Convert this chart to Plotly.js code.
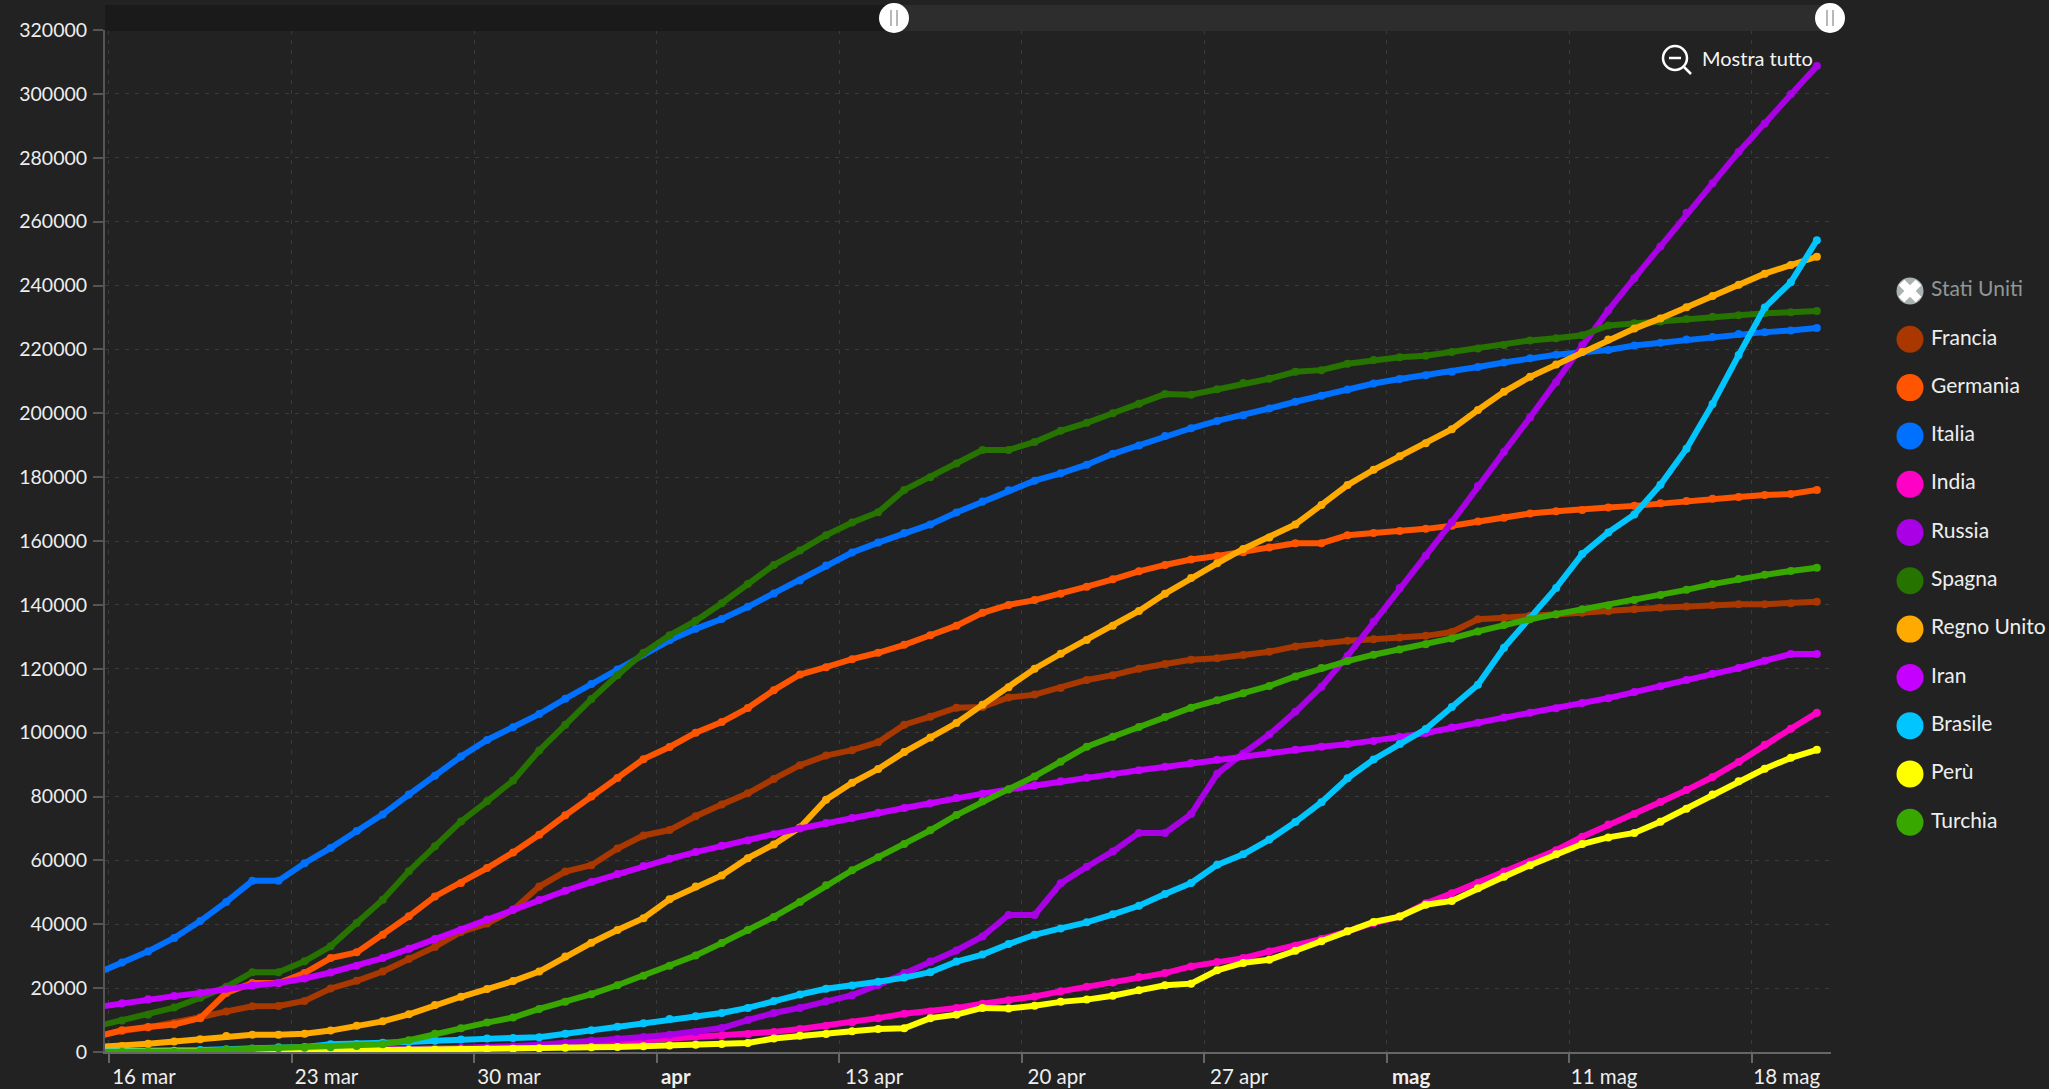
<!DOCTYPE html>
<html><head><meta charset="utf-8">
<script src="https://cdn.plot.ly/plotly-3.0.1.min.js"></script>
<style>html,body{margin:0;padding:0;background:#222;overflow:hidden}#c{width:2049px;height:1089px}</style>
</head><body><div id="c"></div>
<script>
const startDay = '2020-03-15T12:00:00';
const pointCount = 67;
const names = ['Francia','Germania','Italia','India','Russia','Spagna','Regno Unito','Iran','Brasile','Perù','Turchia'];
const colors = ['#A83800','#FF5500','#0070FF','#FF00C5','#A900E6','#267300','#FFAA00','#C500FF','#00C5FF','#FFFF00','#38A800'];
const francia = [5000,6600,7700,9100,10900,12700,14300,14400,16000,19900,22300,25200,29100,32900,37600,40200,44500,51800,56500,58500,63700,67800,69500,73800,77500,81000,85500,89800,92800,94500,97000,102500,105000,107800,108000,111000,111900,114000,116500,118000,120000,121500,122800,123300,124300,125300,127000,128000,128800,129200,129800,130300,131500,135500,136000,136600,137000,137500,138000,138600,139100,139500,139900,140200,140200,140500,141000];
const germania = [4700,6800,7800,8600,10600,18500,21600,21600,24700,29400,31200,36700,42500,48700,52900,57600,62500,68000,74100,80000,85800,91700,95500,100000,103300,107700,113300,118200,120500,123000,125000,127500,130500,133500,137500,140000,141500,143500,145700,148000,150500,152500,154200,155300,156500,158000,159300,159300,161800,162500,163100,163800,164800,166100,167300,168600,169300,169700,170500,171000,171800,172500,173200,173800,174400,174700,176000];
const italia = [24500,28000,31500,35700,41000,47000,53600,53600,59100,63900,69200,74400,80600,86500,92500,97700,101700,105800,110600,115200,119800,124600,128900,132500,135600,139400,143600,147600,152300,156400,159500,162500,165200,168900,172400,175900,178900,181200,183900,187300,189900,192900,195300,197600,199400,201500,203600,205500,207400,209300,210700,211900,213000,214500,215900,217200,218300,219100,219800,221200,222100,223100,223900,224800,225400,225900,226700];
const india = [110,115,140,170,200,250,330,400,470,560,650,750,880,1000,1100,1250,1400,1650,2050,2550,3100,3600,4300,4750,5100,5600,6300,7200,8200,9300,10600,12000,12700,13800,15100,16200,17400,19000,20400,21800,23500,24700,26800,28200,29400,31500,33300,35400,37800,40400,42400,46600,49700,53000,56500,59600,63200,67400,71200,74500,78300,82000,86100,90800,96200,101200,106200];
const russia = [60,63,93,115,150,200,250,300,370,440,500,660,840,1000,1300,1500,1800,2300,2800,3500,4100,4700,5400,6300,7500,10000,12200,13800,15900,17800,21000,24700,28300,31800,36200,42900,42900,52800,58000,62800,68600,68600,74500,87100,93500,99400,106500,114400,124000,134700,145300,155400,165900,177200,187900,198700,209700,221300,232200,242300,252200,262800,272000,281800,290700,299900,308700];
const spagna = [8000,9900,11700,13900,17000,20400,25000,25000,28400,33100,40400,47700,56600,64400,72200,78500,85000,94400,102500,110500,118000,125000,130500,135000,140500,146500,152500,157000,161800,165800,169000,176000,180000,184300,188500,188500,191000,194500,197000,200000,203000,206000,205800,207500,209500,210800,213000,213500,215500,216700,217500,218000,219200,220300,221400,222800,223500,224400,227500,228200,228700,229500,230200,230700,231300,231600,232000];
const regnoUnito = [1500,1900,2600,3300,4000,5000,5400,5400,5700,6700,8200,9600,11800,14700,17300,19700,22200,25200,29900,34200,38200,41900,47800,51800,55300,60700,65000,70300,79000,84300,88600,93900,98500,103000,108700,114200,120000,124700,129000,133500,138100,143500,148400,153000,157500,161100,165200,171300,177500,182300,186500,190600,195000,201000,206700,211400,215300,219200,223100,226500,229700,233200,236700,240200,243700,246400,249000];
const iran = [14000,15300,16500,17500,18500,19800,20800,21600,23000,24900,27000,29400,32300,35400,38300,41500,44600,47600,50500,53200,55700,58200,60500,62600,64600,66200,68200,70000,71700,73300,74900,76400,77900,79500,80900,82200,83500,84800,85900,87000,88200,89300,90500,91500,92600,93700,94600,95600,96400,97400,98600,99900,101600,103100,104700,106200,107600,109300,110800,112700,114500,116500,118400,120200,122500,124600,124600];
const brasile = [200,230,300,400,600,900,1100,1500,1600,2400,2500,2900,3100,3500,3900,4200,4400,4600,5700,6800,7900,9000,10300,11200,12200,13800,16000,18000,19800,20800,22000,23300,25000,28300,30500,33800,36700,38700,40600,43100,45800,49500,52900,58600,61900,66500,72000,78200,85700,91600,96400,101100,108000,115000,126600,135800,145300,155900,162700,168300,177600,188900,202900,218200,233100,241000,254200];
const peru = [40,45,90,120,170,230,320,400,420,480,540,600,650,700,800,900,1000,1150,1300,1450,1600,1800,2000,2300,2500,2800,4200,5100,5600,6500,7200,7400,10600,11700,13800,13600,14500,15700,16400,17600,19300,20900,21400,25600,27900,28900,31700,34700,37800,40700,42400,46100,47300,51300,54900,58500,61900,65100,67200,68600,72100,76200,80600,84800,88700,92100,94600];
const turchia = [20,50,50,100,200,700,1000,1200,1300,1500,1900,2400,3700,5700,7400,9200,10800,13500,15700,18100,20900,23900,27000,30200,34100,38200,42300,47000,52200,56900,61000,65100,69400,74200,78500,82300,86300,90900,95600,98700,101800,104900,107800,110100,112300,114600,117600,120200,122400,124400,126000,127700,129500,131700,133700,135500,137100,138600,139800,141500,143100,144700,146500,148100,149400,150600,151600];
const seriesValues = [francia,germania,italia,india,russia,spagna,regnoUnito,iran,brasile,peru,turchia];
const hiddenName = 'Stati Uniti';
const tickDates = ['2020-03-16','2020-03-23','2020-03-30','2020-04-06','2020-04-13','2020-04-20','2020-04-27','2020-05-04','2020-05-11','2020-05-18'];
const pad = n => '\u00a0'.repeat(n);
const tickTexts = ['16 mar','23 mar','30 mar','<b>apr</b>'+pad(6),'13 apr','20 apr','27 apr','<b>mag</b>'+pad(4),'11 mag','18 mag'];
const yTicks = [0,20000,40000,60000,80000,100000,120000,140000,160000,180000,200000,220000,240000,260000,280000,300000,320000];

const W=2049,H=1089,FONT='Lato, "Noto Sans", sans-serif';
const px=v=>v/W, py=v=>1-v/H;
const t0=new Date(startDay+'Z').getTime();
const dates=[...Array(pointCount).keys()].map(i=>new Date(t0+i*864e5).toISOString().slice(0,19));

const traces=seriesValues.map((vals,k)=>({type:'scatter',mode:'lines+markers',name:names[k],x:dates,y:vals,
  line:{color:colors[k],width:6,shape:'linear'},marker:{color:colors[k],size:8},showlegend:false,hoverinfo:'x+y+name'}));

// legend drawn on its own hidden axes
const legendNames=[hiddenName,...names];
legendNames.forEach((n,k)=>{
  const off=k===0;
  traces.push({type:'scatter',mode:'markers',xaxis:'x2',yaxis:'y2',x:[0],y:[k],
    marker:{size:27,color:off?'#aab2b2':colors[k-1]},showlegend:false,hoverinfo:'skip',cliponaxis:false});
  traces.push({type:'scatter',mode:'markers+text',xaxis:'x2',yaxis:'y2',x:[0],y:[k],text:[n],textposition:'middle right',
    textfont:{family:FONT,size:21,color:off?'#8f9696':'#eeeeee'},cliponaxis:false,
    marker:{size:32,opacity:0},showlegend:false,hoverinfo:'skip'});
});
traces.push({type:'scatter',mode:'markers',xaxis:'x2',yaxis:'y2',x:[0],y:[0],
  marker:{symbol:'x',size:20,color:'#ffffff'},showlegend:false,hoverinfo:'skip',cliponaxis:false});

const sh=(o)=>Object.assign({xref:'paper',yref:'paper',layer:'above'},o);
const rect=(x0,y0,x1,y1,fill)=>sh({type:'rect',x0:px(x0),x1:px(x1),y0:py(y0),y1:py(y1),fillcolor:fill,line:{width:0}});
const circ=(cx,cy,r,fill,lc,lw)=>sh({type:'circle',x0:px(cx-r),x1:px(cx+r),y0:py(cy+r),y1:py(cy-r),fillcolor:fill,line:{color:lc||fill,width:lw||0}});
const seg=(x0,y0,x1,y1,c,w)=>sh({type:'line',x0:px(x0),x1:px(x1),y0:py(y0),y1:py(y1),line:{color:c,width:w}});
const shapes=[
  rect(105,5,894,31,'#1a1a1a'), rect(894,5,1831,31,'#2d2d2d'),
  circ(894,18,15,'#ffffff'), seg(891,10,891,26,'#b8b8b8',2), seg(897,10,897,26,'#b8b8b8',2),
  circ(1830,18,15,'#ffffff'), seg(1827,10,1827,26,'#b8b8b8',2), seg(1833,10,1833,26,'#b8b8b8',2),
  circ(1675,58,12,'rgba(0,0,0,0)','#ffffff',2.5), seg(1669,58,1681,58,'#ffffff',2.5), seg(1684,67,1691,74,'#ffffff',2.5)
];

const layout={
  width:W,height:H,margin:{l:0,r:0,t:0,b:0},paper_bgcolor:'#222222',plot_bgcolor:'#222222',showlegend:false,
  font:{family:FONT,color:'#eeeeee',size:19},
  xaxis:{type:'date',domain:[px(105),px(1831)],range:['2020-03-15T20:20:00','2020-05-21T01:00:00'],anchor:'y',
    tickmode:'array',tickvals:tickDates,ticktext:tickTexts,ticklabelshift:35,ticklabelstandoff:-4,tickangle:0,
    ticks:'outside',ticklen:9,tickcolor:'#666666',tickwidth:1.5,showline:true,linecolor:'#666666',linewidth:2,
    showgrid:true,gridcolor:'#3a3a3a',griddash:'4px,6px',gridwidth:1,zeroline:false,tickfont:{size:20.5,color:'#eeeeee'}},
  yaxis:{domain:[1-1052/H,1-30/H],range:[0,320000],anchor:'x',tickmode:'array',tickvals:yTicks,ticktext:yTicks.map(String),
    ticks:'outside',ticklen:10,tickcolor:'#555555',tickwidth:1.5,showline:true,linecolor:'#555555',linewidth:2,ticklabelstandoff:2,
    showgrid:true,gridcolor:'#3a3a3a',griddash:'4px,6px',gridwidth:1,zeroline:false,tickfont:{size:19.5,color:'#eeeeee'}},
  xaxis2:{domain:[px(1880),1],range:[-30,139],visible:false,anchor:'y2',fixedrange:true},
  yaxis2:{domain:[0,1],range:[(H-291)/48.3,-291/48.3],visible:false,anchor:'x2',fixedrange:true},
  shapes,
  annotations:[{xref:'paper',yref:'paper',x:px(1700),y:py(58),xanchor:'left',yanchor:'middle',showarrow:false,
    text:'Mostra tutto',font:{family:FONT,size:20,color:'#f4f4f4'}}]
};
Plotly.newPlot('c',traces,layout,{displayModeBar:false,responsive:false});
</script></body></html>
